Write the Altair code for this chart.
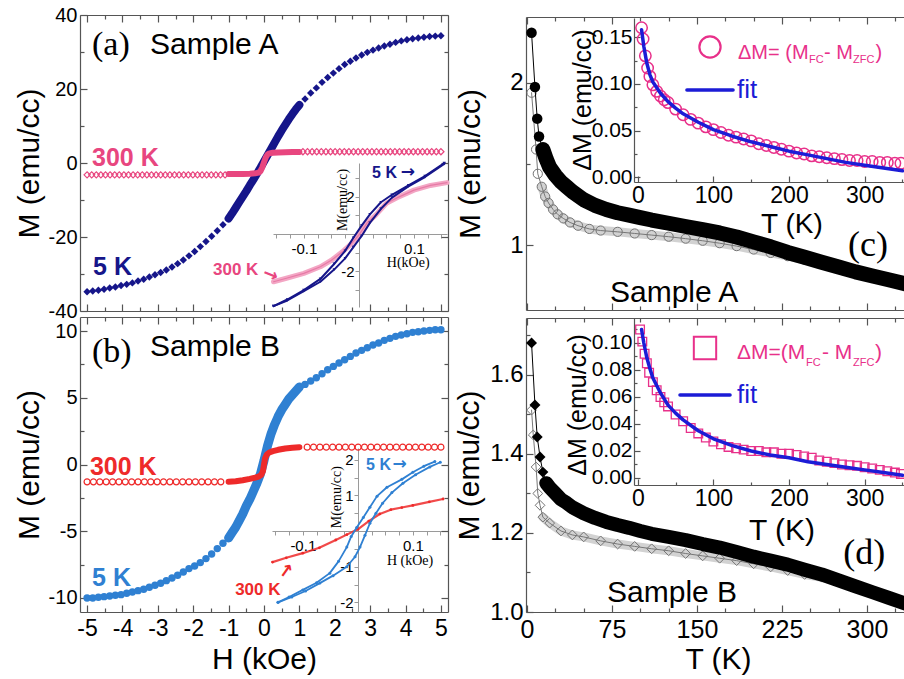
import altair as alt
import pandas as pd

W, HT = 904, 679
SANS = "Liberation Sans"
SERIF = "Liberation Serif"
ARROWF = "DejaVu Sans"

NAVY = "#16168a"
PINK = "#e8467f"
LPINK = "#f3a6c4"
BLUE = "#2f80d2"
RED = "#ee2a2a"
MAG = "#e8308a"
FITB = "#1c1cd6"
FRAME = "#555555"
IAX = "#9a9a9a"

# ---------------- data ----------------
# (a) Sample A, M-H loops (H in kOe, M in emu/cc)
a5_h = [-5.0, -4.84, -4.68, -4.52, -4.36, -4.2, -4.04, -3.88, -3.72, -3.56, -3.4, -3.24, -3.08, -2.92,
        -2.76, -2.6, -2.44, -2.28, -2.12, -1.96, -1.8, -1.64, -1.48, -1.32, -1.16,
        -1.0, -0.9, -0.8, -0.7, -0.6, -0.5, -0.4, -0.3, -0.2, -0.1, 0.0, 0.1, 0.2, 0.3, 0.4, 0.5, 0.6,
        0.7, 0.8, 0.9, 1.0,
        1.16, 1.32, 1.48, 1.64, 1.8, 1.96, 2.12, 2.28, 2.44, 2.6, 2.76, 2.92, 3.08, 3.24, 3.4, 3.56,
        3.72, 3.88, 4.04, 4.2, 4.36, 4.52, 4.68, 4.84, 5.0]
a5_m = [-34.8, -34.6, -34.4, -34.1, -33.8, -33.5, -33.1, -32.8, -32.4, -31.9, -31.4, -30.8, -30.2, -29.6,
        -28.9, -28.1, -27.2, -26.2, -25.1, -23.9, -22.6, -21.2, -19.8, -18.3, -16.7,
        -15.0, -13.6, -12.1, -10.6, -9.1, -7.6, -6.0, -4.5, -2.9, -1.3, 0.4, 2.1, 3.8, 5.5, 7.2, 8.8, 10.3,
        11.8, 13.2, 14.5, 15.7,
        17.3, 18.9, 20.3, 21.8, 23.1, 24.3, 25.5, 26.6, 27.5, 28.4, 29.2, 29.9, 30.5, 31.1, 31.6, 32.1,
        32.6, 33.0, 33.3, 33.6, 33.8, 34.0, 34.2, 34.3, 34.4]
a300_h = [-5.0, -4.87, -4.74, -4.61, -4.48, -4.35, -4.22, -4.09, -3.96, -3.83, -3.7, -3.57, -3.44, -3.31,
          -3.18, -3.05, -2.92, -2.79, -2.66, -2.53, -2.4, -2.27, -2.14, -2.01, -1.88, -1.75, -1.62, -1.49,
          -1.36, -1.23, -1.1,
          -1.0, -0.8, -0.6, -0.4, -0.25, -0.15, -0.1, -0.05, 0.0, 0.05, 0.1, 0.15, 0.25, 0.4, 0.6, 0.8, 1.0,
          1.1, 1.23, 1.36, 1.49, 1.62, 1.75, 1.88, 2.01, 2.14, 2.27, 2.4, 2.53, 2.66, 2.79, 2.92, 3.05,
          3.18, 3.31, 3.44, 3.57, 3.7, 3.83, 3.96, 4.09, 4.22, 4.35, 4.48, 4.61, 4.74, 4.87, 5.0]
a300_m = [-3.2, -3.2, -3.2, -3.2, -3.2, -3.2, -3.2, -3.2, -3.2, -3.2, -3.2, -3.2, -3.2, -3.2,
          -3.2, -3.2, -3.2, -3.2, -3.2, -3.2, -3.2, -3.2, -3.2, -3.2, -3.2, -3.2, -3.2, -3.2,
          -3.2, -3.2, -3.2,
          -3.0, -3.0, -2.95, -2.9, -2.8, -2.6, -2.2, -1.2, 0.2, 1.5, 2.3, 2.6, 2.75, 2.85, 2.9, 2.95, 3.0,
          3.05, 3.05, 3.05, 3.05, 3.05, 3.05, 3.05, 3.05, 3.05, 3.05, 3.05, 3.05, 3.05, 3.05, 3.05, 3.05,
          3.05, 3.05, 3.05, 3.05, 3.05, 3.05, 3.05, 3.05, 3.05, 3.05, 3.05, 3.05, 3.05, 3.05, 3.05]
# inset of (a): low-field loops
ia5_up_h = [0.155, 0.12, 0.09, 0.06, 0.04, 0.02, 0.005, -0.01, -0.025, -0.045, -0.07, -0.1, -0.13, -0.155]
ia5_up_m = [3.8, 3.1, 2.6, 2.1, 1.7, 1.05, 0.45, -0.2, -0.9, -1.6, -2.4, -3.0, -3.5, -3.85]
ia5_lo_h = [-0.155, -0.13, -0.1, -0.07, -0.045, -0.025, -0.01, 0.005, 0.02, 0.04, 0.06, 0.09, 0.12, 0.155]
ia5_lo_m = [-3.85, -3.55, -3.05, -2.55, -1.9, -1.3, -0.7, -0.1, 0.6, 1.35, 1.95, 2.55, 3.05, 3.75]
ia3_h = [-0.155, -0.13, -0.1, -0.07, -0.05, -0.03, -0.015, 0.0, 0.015, 0.03, 0.05, 0.07, 0.1, 0.13, 0.16]
ia3_m = [-2.55, -2.35, -2.1, -1.75, -1.4, -0.95, -0.55, -0.05, 0.6, 1.0, 1.65, 1.95, 2.35, 2.6, 2.75]

# (b) Sample B
b5_h = a5_h
b5_m = [-10.0, -10.0, -9.95, -9.9, -9.85, -9.8, -9.75, -9.65, -9.55, -9.45, -9.35, -9.2, -9.05, -8.9,
        -8.7, -8.5, -8.3, -8.05, -7.8, -7.6, -7.35, -7.05, -6.7, -6.3, -5.9,
        -5.5, -5.1, -4.7, -4.2, -3.7, -3.1, -2.6, -2.0, -1.4, -0.7, 0.3, 1.4, 2.3, 3.0, 3.6, 4.1, 4.5,
        4.9, 5.2, 5.5, 5.8,
        6.0, 6.25, 6.5, 6.8, 7.1, 7.35, 7.6, 7.85, 8.1, 8.35, 8.55, 8.75, 8.95, 9.1, 9.3, 9.45,
        9.6, 9.7, 9.8, 9.9, 9.95, 10.0, 10.05, 10.1, 10.1]
b300_h = [-5.0, -4.82, -4.64, -4.46, -4.28, -4.1, -3.92, -3.74, -3.56, -3.38, -3.2, -3.02, -2.84, -2.66,
          -2.48, -2.3, -2.12, -1.94, -1.76, -1.58, -1.4, -1.22,
          -1.0, -0.8, -0.6, -0.4, -0.25, -0.15, -0.08, -0.03, 0.0, 0.03, 0.08, 0.15, 0.25, 0.4, 0.6, 0.8, 1.0,
          1.22, 1.4, 1.58, 1.76, 1.94, 2.12, 2.3, 2.48, 2.66, 2.84, 3.02, 3.2, 3.38, 3.56, 3.74, 3.92,
          4.1, 4.28, 4.46, 4.64, 4.82, 5.0]
b300_m = [-1.3, -1.3, -1.3, -1.3, -1.3, -1.3, -1.3, -1.3, -1.3, -1.3, -1.3, -1.3, -1.3, -1.3,
          -1.3, -1.3, -1.3, -1.3, -1.3, -1.3, -1.3, -1.3,
          -1.29, -1.25, -1.18, -1.08, -0.98, -0.9, -0.78, -0.5, 0.0, 0.45, 0.75, 0.9, 1.0, 1.1, 1.2, 1.26, 1.3,
          1.3, 1.3, 1.3, 1.3, 1.3, 1.3, 1.3, 1.3, 1.3, 1.3, 1.3, 1.3, 1.3, 1.3, 1.3, 1.3,
          1.3, 1.3, 1.3, 1.3, 1.3, 1.3]
ib5_up_h = [0.14, 0.12, 0.1, 0.08, 0.053, 0.035, 0.022, 0.01, -0.002, -0.012, -0.02, -0.035, -0.051,
            -0.075, -0.1, -0.125, -0.145]
ib5_up_m = [1.95, 1.82, 1.65, 1.45, 1.23, 0.98, 0.67, 0.38, 0.1, -0.15, -0.45, -0.85, -1.18,
            -1.45, -1.65, -1.85, -2.0]
ib5_lo_h = [-0.145, -0.12, -0.095, -0.069, -0.045, -0.02, -0.005, 0.004, 0.013, 0.022, 0.033, 0.045,
            0.062, 0.082, 0.105, 0.131, 0.15]
ib5_lo_m = [-2.0, -1.85, -1.68, -1.46, -1.25, -1.0, -0.72, -0.45, -0.12, 0.22, 0.5, 0.78,
            1.08, 1.34, 1.58, 1.8, 1.93]
ib3_h = [-0.155, -0.13, -0.1, -0.07, -0.04, -0.02, 0.0, 0.02, 0.04, 0.06, 0.08, 0.1, 0.13, 0.155]
ib3_m = [-0.87, -0.75, -0.62, -0.47, -0.25, -0.1, 0.05, 0.28, 0.48, 0.6, 0.66, 0.72, 0.82, 0.9]

# (c) Sample A, M-T (FC / ZFC)
c_fc_t = [4, 7, 9, 10.6, 14, 17, 20, 25, 30, 35, 40, 50, 60, 70, 80, 90, 100, 110, 125, 140, 155, 170,
          185, 200, 215, 230, 245, 260, 275, 290, 305, 320, 335, 345]
c_fc_m = [2.31, 1.975, 1.78, 1.67, 1.59, 1.53, 1.48, 1.43, 1.39, 1.36, 1.33, 1.28, 1.245, 1.22, 1.2,
          1.185, 1.17, 1.155, 1.135, 1.115, 1.095, 1.075, 1.05, 1.02, 0.99, 0.955, 0.925, 0.895, 0.865,
          0.835, 0.81, 0.785, 0.76, 0.745]
c_zfc_t = [4, 8, 9.5, 13, 16, 19, 23, 27, 32, 38, 45, 55, 65, 80, 95, 110, 125, 140, 155, 170, 185, 200,
           215, 230, 245, 260, 280, 300, 320, 340]
c_zfc_m = [1.94, 1.59, 1.44, 1.36, 1.3, 1.26, 1.22, 1.19, 1.165, 1.14, 1.12, 1.1, 1.09, 1.082, 1.072,
           1.062, 1.052, 1.04, 1.027, 1.012, 0.994, 0.973, 0.952, 0.932, 0.91, 0.885, 0.85, 0.815, 0.782,
           0.752]
ic_t = [5, 7, 10, 13, 16, 20, 25, 30, 35, 40, 50, 60, 70, 80, 90, 100, 110, 120, 130, 140, 150, 160, 170,
        180, 190, 200, 210, 220, 230, 240, 250, 260, 270, 280, 290, 300, 310, 320, 330, 340, 348]
ic_d = [0.160, 0.148, 0.130, 0.117, 0.108, 0.099, 0.092, 0.087, 0.083, 0.080, 0.073, 0.067, 0.062, 0.058,
        0.054, 0.051, 0.048, 0.045, 0.043, 0.041, 0.039, 0.036, 0.034, 0.032, 0.030, 0.028, 0.026, 0.025,
        0.023, 0.022, 0.021, 0.020, 0.019, 0.018, 0.018, 0.017, 0.017, 0.016, 0.016, 0.015, 0.015]
ic_fit_t = [5, 8, 12, 16, 20, 30, 40, 50, 60, 80, 100, 125, 150, 175, 200, 225, 250, 275, 300, 325, 350]
ic_fit_d = [0.158, 0.140, 0.122, 0.110, 0.102, 0.090, 0.081, 0.074, 0.068, 0.059, 0.051, 0.044, 0.038,
            0.033, 0.028, 0.024, 0.020, 0.016, 0.013, 0.010, 0.007]

# (d) Sample B, M-T
d_fc_t = [4, 7, 9, 11.5, 14, 17, 20, 25, 30, 35, 40, 50, 60, 70, 80, 90, 100, 110, 125, 140, 155, 170,
          185, 200, 215, 230, 245, 260, 275, 290, 305, 320, 335, 345]
d_fc_m = [1.681, 1.524, 1.443, 1.392, 1.354, 1.326, 1.315, 1.3, 1.285, 1.276, 1.265, 1.25, 1.238, 1.228,
          1.22, 1.213, 1.205, 1.198, 1.19, 1.182, 1.172, 1.163, 1.152, 1.14, 1.13, 1.12, 1.107, 1.095,
          1.08, 1.065, 1.05, 1.035, 1.02, 1.01]
d_zfc_t = [4, 5.5, 8, 9.5, 11.5, 14, 20, 30, 40, 50, 65, 80, 95, 110, 125, 140, 155, 170, 185, 200, 215,
           230, 245, 260, 280, 300, 320, 340]
d_zfc_m = [1.511, 1.448, 1.367, 1.3, 1.27, 1.24, 1.225, 1.205, 1.195, 1.19, 1.18, 1.172, 1.166, 1.16,
           1.155, 1.148, 1.142, 1.136, 1.13, 1.122, 1.114, 1.105, 1.095, 1.088, 1.072, 1.055, 1.035, 1.015]
id_t = [3, 6, 9, 12, 15, 20, 25, 30, 35, 40, 50, 60, 70, 80, 90, 100, 110, 120, 130, 140, 150, 160, 170,
        180, 190, 200, 210, 220, 230, 240, 250, 260, 270, 280, 290, 300, 310, 320, 330, 340, 348]
id_d = [0.110, 0.101, 0.092, 0.085, 0.078, 0.071, 0.065, 0.060, 0.056, 0.053, 0.047, 0.042, 0.037, 0.033,
        0.030, 0.027, 0.025, 0.023, 0.022, 0.021, 0.020, 0.020, 0.019, 0.019, 0.018, 0.018, 0.017, 0.016,
        0.015, 0.013, 0.012, 0.011, 0.010, 0.0095, 0.009, 0.008, 0.007, 0.006, 0.005, 0.004, 0.003]
id_fit_t = [5, 8, 12, 16, 20, 30, 40, 50, 60, 80, 100, 125, 150, 175, 200, 225, 250, 275, 300, 325, 350]
id_fit_d = [0.110, 0.100, 0.089, 0.081, 0.074, 0.063, 0.054, 0.048, 0.043, 0.035, 0.029, 0.024, 0.020,
            0.017, 0.015, 0.012, 0.010, 0.008, 0.006, 0.004, 0.002]

# ---------------- panel geometry (pixel ranges of each plot box) ----------------
PA = dict(xd=[-5.2, 5.2], xr=[80, 448], yd=[-40, 40], yr=[311, 15])
PB = dict(xd=[-5.2, 5.2], xr=[80, 448], yd=[-11.05, 11.05], yr=[612, 317])
PC = dict(xd=[-0.9, 338], xr=[526, 910], yd=[0.6, 2.407], yr=[310, 17])
PD = dict(xd=[-0.9, 338], xr=[526, 910], yd=[1.0, 1.744], yr=[612, 318])
IA = dict(xd=[-0.156, 0.16], xr=[273, 447], yd=[-3.9, 3.8], yr=[307, 163])
IB = dict(xd=[-0.156, 0.164], xr=[272, 448], yd=[-2.27, 2.33], yr=[612, 448])
IC = dict(xd=[-5, 360], xr=[634, 910], yd=[-0.005, 0.1705], yr=[182, 18])
ID = dict(xd=[-5, 360], xr=[634, 910], yd=[-0.0052, 0.1185], yr=[485, 318])


def xs(p):
    return alt.Scale(domain=p["xd"], range=p["xr"], nice=False, zero=False)


def ys(p):
    return alt.Scale(domain=p["yd"], range=p["yr"], nice=False, zero=False)


def enc(p):
    return dict(x=alt.X("x:Q", scale=xs(p), axis=None), y=alt.Y("y:Q", scale=ys(p), axis=None))


def frame_df(a, b):
    return pd.DataFrame({"x": a, "y": b, "i": list(range(len(a)))})


def axis_layer(p, ch, orient, pos, values, tick=0, labels=False, domain=True, title=None,
               lsize=20, fmt=None, lpad=3, tsize=30, tpad=4, color=FRAME, width=1.2):
    if orient == "bottom":
        off = pos - HT
    elif orient == "right":
        off = pos - W
    else:
        off = -pos
    kw = dict(orient=orient, offset=off, values=values, grid=False, labels=labels, domain=domain,
              ticks=tick > 0, tickSize=tick, domainColor=color, tickColor=color,
              domainWidth=width, tickWidth=width, title=title)
    if labels:
        kw.update(labelFont=SANS, labelFontSize=lsize, labelColor="black", labelPadding=lpad,
                  labelFlush=False, labelOverlap=False,
                  labelExpr="replace(datum.label, '\u2212', '-')")
        if fmt:
            kw["format"] = fmt
    if title:
        kw.update(titleFont=SANS, titleFontSize=tsize, titleFontWeight="normal",
                  titleColor="black", titlePadding=tpad)
    d = pd.DataFrame({"v": p["xd"] if ch == "x" else p["yd"]})
    if ch == "x":
        return alt.Chart(d).mark_point(opacity=0).encode(
            x=alt.X("v:Q", scale=xs(p), axis=alt.Axis(**kw)))
    return alt.Chart(d).mark_point(opacity=0).encode(
        y=alt.Y("v:Q", scale=ys(p), axis=alt.Axis(**kw)))


def pts(p, d, shape="circle", size=50, filled=True, color="black", sw=1.0, flt=None):
    c = alt.Chart(d)
    if flt:
        c = c.transform_filter(flt)
    return c.mark_point(shape=shape, size=size, filled=filled, color=color, strokeWidth=sw,
                        opacity=1).encode(**enc(p))


def line(p, d, color, sw, flt=None, opacity=1.0):
    c = alt.Chart(d)
    if flt:
        c = c.transform_filter(flt)
    return c.mark_line(color=color, strokeWidth=sw, strokeCap="round", strokeJoin="round",
                       opacity=opacity).encode(**enc(p), order="i:Q")


def txt(p, x, y, s, size, color="black", font=SANS, weight="normal", align="left", angle=0):
    d = pd.DataFrame({"x": [x], "y": [y], "s": [s]})
    kw = dict(fontSize=size, color=color, font=font, fontWeight=weight, align=align,
              baseline="middle")
    if angle:
        kw["angle"] = angle
    return alt.Chart(d).mark_text(**kw).encode(**enc(p), text="s:N")


def box(p, xmaj, xmin, ymaj, ymin, right=True):
    left, rgt = p["xr"]
    bottom, top = p["yr"]
    out = [
        axis_layer(p, "x", "top", bottom, xmaj, tick=7),
        axis_layer(p, "x", "top", bottom, xmin, tick=4, domain=False),
        axis_layer(p, "x", "bottom", top, xmaj, tick=7),
        axis_layer(p, "x", "bottom", top, xmin, tick=4, domain=False),
        axis_layer(p, "y", "right", left, ymaj, tick=7),
        axis_layer(p, "y", "right", left, ymin, tick=4, domain=False),
    ]
    if right:
        out += [axis_layer(p, "y", "left", rgt, ymaj, tick=7),
                axis_layer(p, "y", "left", rgt, ymin, tick=4, domain=False)]
    return out


L = []

# ---------- panel (a) ----------
HMAJ = [-5, -4, -3, -2, -1, 0, 1, 2, 3, 4, 5]
HMIN = [-4.5, -3.5, -2.5, -1.5, -0.5, 0.5, 1.5, 2.5, 3.5, 4.5]
L += box(PA, HMAJ, HMIN, [-40, -20, 0, 20, 40], [-30, -10, 10, 30])
L.append(axis_layer(PA, "y", "left", 80, [-40, -20, 0, 20, 40], labels=True, domain=False,
                    fmt="d", lsize=20, lpad=3, title="M (emu/cc)", tpad=4))
dA5 = frame_df(a5_h, a5_m)
dA3 = frame_df(a300_h, a300_m)
L.append(line(PA, dA5, NAVY, 8, flt="abs(datum.x) <= 1.05"))
L.append(pts(PA, dA5, "diamond", 55, True, NAVY))
L.append(pts(PA, dA3, "diamond", 38, False, PINK, 1.2, flt="abs(datum.x) > 1.05"))
L.append(line(PA, dA3, PINK, 6, flt="abs(datum.x) <= 1.05"))
L.append(txt(PA, -4.86, 31.9, "(a)", 34, font=SERIF))
L.append(txt(PA, -3.22, 31.9, "Sample A", 30))
L.append(txt(PA, -4.86, 1.35, "300 K", 25, PINK, weight="bold"))
L.append(txt(PA, -4.83, -28.1, "5 K", 25, NAVY, weight="bold"))
# inset (a)
IX = [-0.15, -0.125, -0.1, -0.075, -0.05, -0.025, 0.025, 0.05, 0.075, 0.1, 0.125, 0.15]
L.append(axis_layer(IA, "x", "bottom", 234, IX, tick=4, color=IAX, width=1))
L.append(axis_layer(IA, "x", "bottom", 234, [-0.1, 0.1], labels=True, domain=False, fmt=".1f",
                    lsize=15, lpad=7))
L.append(axis_layer(IA, "y", "left", 359, [-3, -2, -1, 1, 2, 3], tick=4, color=IAX, width=1))
L.append(axis_layer(IA, "y", "left", 359, [-2, 2], labels=True, domain=False, fmt="d",
                    lsize=15, lpad=5))
dIA3 = frame_df(ia3_h, ia3_m)
L.append(line(IA, dIA3, LPINK, 5))
L.append(line(IA, dIA3, "#e77aa6", 1.2))
for hh, mm in ((ia5_up_h, ia5_up_m), (ia5_lo_h, ia5_lo_m)):
    dd = frame_df(hh, mm)
    L.append(line(IA, dd, NAVY, 2))
    L.append(pts(IA, dd, "triangle-down", 10, True, NAVY))
L.append(txt(IA, 0.024, 3.26, "5 K", 16, NAVY, weight="bold"))
L.append(txt(IA, 0.076, 3.3, "\u2192", 17, NAVY, font=ARROWF, weight="bold"))
L.append(txt(IA, -0.265, -1.93, "300 K", 17, PINK, weight="bold"))
L.append(txt(IA, -0.161, -2.2, "\u2192", 18, PINK, font=ARROWF, weight="bold", align="center",
             angle=22))
L.append(txt(IA, -0.029, 1.82, "M(emu/cc)", 14, font=SERIF, align="center", angle=270))
L.append(txt(IA, 0.0895, -1.55, "H(kOe)", 14, font=SERIF, align="center"))

# ---------- panel (b) ----------
L += box(PB, HMAJ, HMIN, [-10, -5, 0, 5, 10], [-7.5, -2.5, 2.5, 7.5])
L.append(axis_layer(PB, "y", "left", 80, [-10, -5, 0, 5, 10], labels=True, domain=False,
                    fmt="d", lsize=20, lpad=3, title="M (emu/cc)", tpad=4))
L.append(axis_layer(PB, "x", "bottom", 612, HMAJ, labels=True, domain=False, fmt="d",
                    lsize=23, lpad=5, title="H (kOe)", tpad=4))
dB5 = frame_df(b5_h, b5_m)
dB3 = frame_df(b300_h, b300_m)
L.append(line(PB, dB5, BLUE, 9, flt="abs(datum.x) <= 1.05"))
L.append(pts(PB, dB5, "circle", 55, True, BLUE))
L.append(pts(PB, dB3, "circle", 36, False, RED, 1.2, flt="abs(datum.x) > 1.05"))
L.append(line(PB, dB3, RED, 6, flt="abs(datum.x) <= 1.05"))
L.append(txt(PB, -4.86, 8.43, "(b)", 34, font=SERIF))
L.append(txt(PB, -3.22, 8.8, "Sample B", 30))
L.append(txt(PB, -4.92, -0.19, "300 K", 25, RED, weight="bold"))
L.append(txt(PB, -4.86, -8.5, "5 K", 25, BLUE, weight="bold"))
# inset (b)
L.append(axis_layer(IB, "x", "bottom", 531, IX, tick=4, color=IAX, width=1))
L.append(axis_layer(IB, "x", "bottom", 531, [-0.1, 0.1], labels=True, domain=False, fmt=".1f",
                    lsize=15, lpad=7))
L.append(axis_layer(IB, "y", "left", 358, [-2, -1.5, -1, -0.5, 0.5, 1, 1.5, 2], tick=4,
                    color=IAX, width=1))
L.append(axis_layer(IB, "y", "left", 358, [-2, -1, 1, 2], labels=True, domain=False, fmt="d",
                    lsize=15, lpad=5))
dIB3 = frame_df(ib3_h, ib3_m)
L.append(line(IB, dIB3, RED, 2.2, opacity=0.85))
L.append(pts(IB, dIB3, "circle", 8, True, RED))
for hh, mm in ((ib5_up_h, ib5_up_m), (ib5_lo_h, ib5_lo_m)):
    dd = frame_df(hh, mm)
    L.append(line(IB, dd, BLUE, 1.8))
    L.append(pts(IB, dd, "circle", 9, True, BLUE))
L.append(txt(IB, 0.015, 1.85, "5 K", 16, BLUE, weight="bold"))
L.append(txt(IB, 0.063, 1.88, "\u2192", 17, BLUE, font=ARROWF, weight="bold"))
L.append(txt(IB, -0.223, -1.65, "300 K", 17, RED, weight="bold"))
L.append(txt(IB, -0.129, -1.12, "\u2192", 18, RED, font=ARROWF, weight="bold", align="center",
             angle=305))
L.append(txt(IB, -0.038, 0.95, "M(emu/cc)", 14, font=SERIF, align="center", angle=270))
L.append(txt(IB, 0.095, -0.84, "H (kOe)", 14, font=SERIF, align="center"))

# ---------- panel (c) ----------
TMAJ = [0, 75, 150, 225, 300]
TMIN = [25, 50, 100, 125, 175, 200, 250, 275, 325]
L += box(PC, TMAJ, TMIN, [1, 2], [1.5], right=False)
L.append(axis_layer(PC, "y", "left", 526, [1, 2], labels=True, domain=False, fmt="d",
                    lsize=24, lpad=3, title="M (emu/cc)", tpad=24))
dCZ = frame_df(c_zfc_t, c_zfc_m)
dCF = frame_df(c_fc_t, c_fc_m)
L.append(line(PC, dCZ, "#d2d2d2", 9, flt="datum.x >= 12"))
L.append(line(PC, dCZ, "#777777", 1))
L.append(pts(PC, dCZ, "circle", 85, False, "#737373", 1))
L.append(line(PC, dCF, "black", 1))
L.append(line(PC, dCF, "black", 15, flt="datum.x >= 14"))
L.append(pts(PC, dCF, "circle", 110, True, "black"))
L.append(txt(PC, 283.3, 1.0, "(c)", 36, font=SERIF))
L.append(txt(PC, 73.2, 0.703, "Sample A", 30))
# inset (c)
L.append(axis_layer(IC, "x", "top", 182, [0, 100, 200, 300], tick=6))
L.append(axis_layer(IC, "x", "top", 182, [50, 150, 250, 350], tick=3, domain=False))
L.append(axis_layer(IC, "x", "bottom", 182, [0, 100, 200, 300], labels=True, domain=False,
                    fmt="d", lsize=23, lpad=2))
L.append(axis_layer(IC, "y", "right", 634, [0, 0.05, 0.1, 0.15], tick=6))
L.append(axis_layer(IC, "y", "right", 634, [0.025, 0.075, 0.125], tick=3, domain=False))
L.append(axis_layer(IC, "y", "left", 634, [0, 0.05, 0.1, 0.15], labels=True, domain=False,
                    fmt=".2f", lsize=21, lpad=2))
L.append(pts(IC, frame_df(ic_t, ic_d), "circle", 130, False, MAG, 1.5))
L.append(line(IC, frame_df(ic_fit_t, ic_fit_d), FITB, 3.5))
L.append(pts(IC, frame_df([95.5], [0.1395]), "circle", 450, False, MAG, 2.2))
L.append(txt(IC, 132.5, 0.133, "\u0394M= (M", 20, MAG))
L.append(txt(IC, 226.4, 0.1255, "FC", 11, MAG))
L.append(txt(IC, 246.3, 0.133, "- M", 20, MAG))
L.append(txt(IC, 284.6, 0.1255, "ZFC", 11, MAG))
L.append(txt(IC, 314.4, 0.133, ")", 20, MAG))
L.append(line(IC, frame_df([65, 126], [0.0935, 0.0935]), FITB, 3.5))
L.append(txt(IC, 131.2, 0.0935, "fit", 26, FITB))
L.append(txt(IC, 203.9, -0.051, "T (K)", 28, align="center"))
L.append(txt(IC, -72.4, 0.0828, "\u0394M (emu/cc)", 25, align="center", angle=270))

# ---------- panel (d) ----------
L += box(PD, TMAJ, TMIN, [1.0, 1.2, 1.4, 1.6], [1.1, 1.3, 1.5, 1.7], right=False)
L.append(axis_layer(PD, "y", "left", 526, [1.0, 1.2, 1.4, 1.6], labels=True, domain=False,
                    fmt=".1f", lsize=24, lpad=3, title="M (emu/cc)", tpad=5))
L.append(axis_layer(PD, "x", "bottom", 612, TMAJ, labels=True, domain=False, fmt="d",
                    lsize=25, lpad=5, title="T (K)", tpad=2))
dDZ = frame_df(d_zfc_t, d_zfc_m)
dDF = frame_df(d_fc_t, d_fc_m)
L.append(line(PD, dDZ, "#d2d2d2", 9, flt="datum.x >= 14"))
L.append(line(PD, dDZ, "#777777", 1))
L.append(pts(PD, dDZ, "diamond", 95, False, "#737373", 1))
L.append(line(PD, dDF, "black", 1))
L.append(line(PD, dDF, "black", 14, flt="datum.x >= 17"))
L.append(pts(PD, dDF, "diamond", 120, True, "black"))
L.append(txt(PD, 279, 1.149, "(d)", 36, font=SERIF))
L.append(txt(PD, 70.6, 1.048, "Sample B", 30))
# inset (d)
L.append(axis_layer(ID, "x", "top", 485, [0, 100, 200, 300], tick=6))
L.append(axis_layer(ID, "x", "top", 485, [50, 150, 250, 350], tick=3, domain=False))
L.append(axis_layer(ID, "x", "bottom", 485, [0, 100, 200, 300], labels=True, domain=False,
                    fmt="d", lsize=23, lpad=2))
L.append(axis_layer(ID, "y", "right", 634, [0, 0.02, 0.04, 0.06, 0.08, 0.1], tick=6))
L.append(axis_layer(ID, "y", "right", 634, [0.01, 0.03, 0.05, 0.07, 0.09, 0.11], tick=3,
                    domain=False))
L.append(axis_layer(ID, "y", "left", 634, [0, 0.02, 0.04, 0.06, 0.08, 0.1], labels=True,
                    domain=False, fmt=".2f", lsize=21, lpad=2))
L.append(pts(ID, frame_df(id_t, id_d), "square", 75, False, MAG, 1.3))
L.append(line(ID, frame_df(id_fit_t, id_fit_d), FITB, 3.5))
L.append(pts(ID, frame_df([88.9], [0.0963]), "square", 500, False, MAG, 2))
L.append(txt(ID, 131.2, 0.0926, "\u0394M=(M", 21, MAG))
L.append(txt(ID, 222.5, 0.0852, "FC", 11, MAG))
L.append(txt(ID, 243.6, 0.0926, "- M", 21, MAG))
L.append(txt(ID, 284.6, 0.0852, "ZFC", 11, MAG))
L.append(txt(ID, 313.7, 0.0926, ")", 21, MAG))
L.append(line(ID, frame_df([55.8, 122], [0.0615, 0.0615]), FITB, 3.5))
L.append(txt(ID, 131.2, 0.0615, "fit", 26, FITB))
L.append(txt(ID, 190.7, -0.0395, "T (K)", 30, align="center"))
L.append(txt(ID, -79, 0.0541, "\u0394M (emu/cc)", 25, align="center", angle=270))

chart = (
    alt.layer(*L)
    .resolve_scale(x="independent", y="independent")
    .resolve_axis(x="independent", y="independent")
    .properties(width=W, height=HT, autosize=alt.AutoSizeParams(type="none"), padding=0)
    .configure_view(strokeWidth=0)
)

chart.save("out.html", embed_options={"renderer": "svg", "actions": False})
